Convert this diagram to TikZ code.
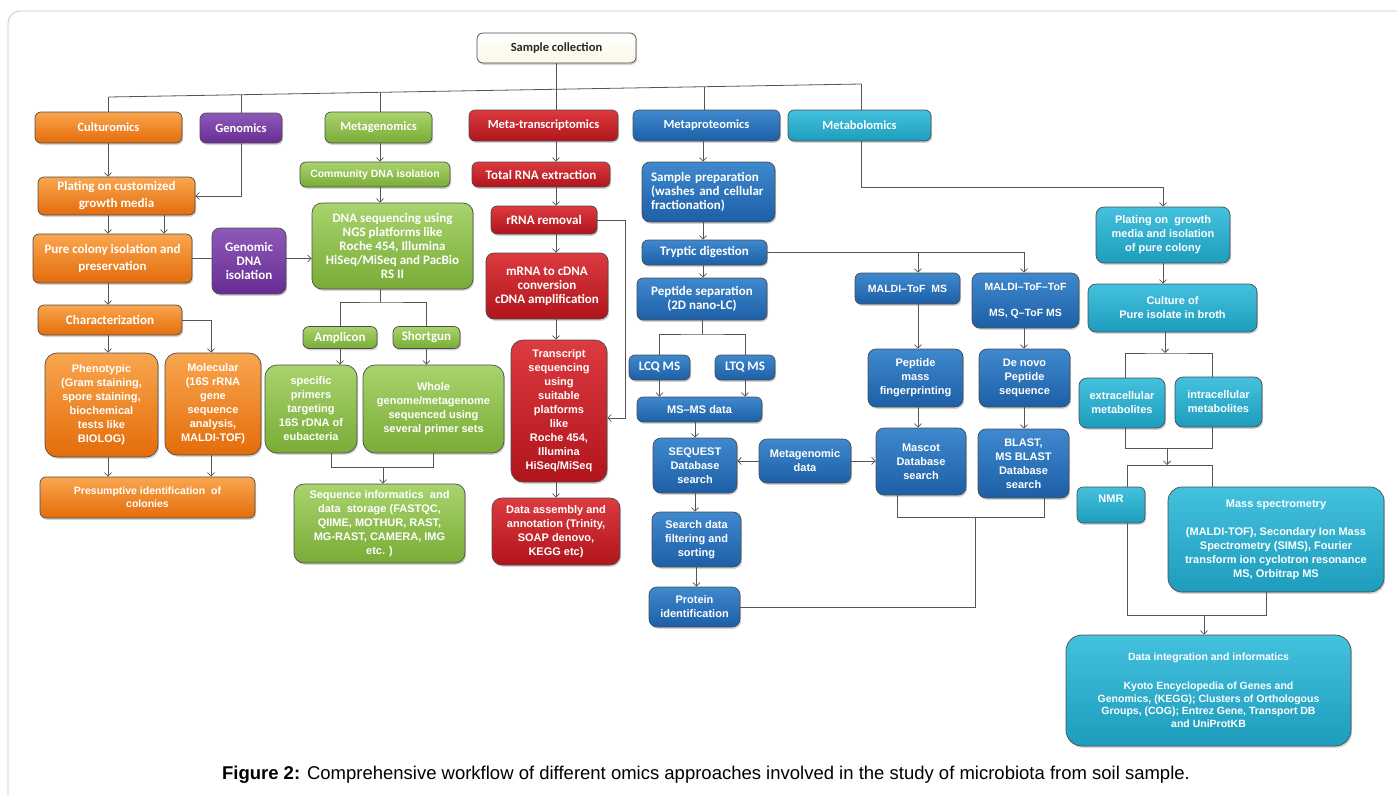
\documentclass[tikz,border=0pt]{standalone}
\usepackage{fontspec}
\setmainfont{Liberation Sans}
\newfontfamily\calfont{Carlito}
\usetikzlibrary{arrows.meta,shadows}

\definecolor{orTop}{HTML}{F9A64F}
\definecolor{orBot}{HTML}{E46C0A}
\definecolor{puTop}{HTML}{8D5AB8}
\definecolor{puBot}{HTML}{682C94}
\definecolor{grTop}{HTML}{A9D36E}
\definecolor{grBot}{HTML}{79AC36}
\definecolor{reTop}{HTML}{DC3B3F}
\definecolor{reBot}{HTML}{B0141C}
\definecolor{blTop}{HTML}{3F89CE}
\definecolor{blBot}{HTML}{1D5FA6}
\definecolor{cyTop}{HTML}{43C1DD}
\definecolor{cyBot}{HTML}{1E9CBD}
\definecolor{cream}{HTML}{FBF8E6}
\definecolor{linegray}{HTML}{555555}

\begin{document}
\begin{tikzpicture}[x=1pt,y=-1pt]
        \tikzset{>={Straight Barb[length=3.5pt,width=7pt]}}
        \tikzstyle{link}=[draw=linegray,line width=0.8pt]
        \tikzstyle{box}=[draw=black!70,line width=0.7pt,rounded corners=6pt,align=center,text=white,inner sep=2pt,
                drop shadow={shadow xshift=1.2pt,shadow yshift=-1.8pt,opacity=0.35}]
        \tikzstyle{scbox}=[box,top color=white,bottom color=cream,text=black!85]
        \tikzstyle{orbox}=[box,top color=orTop,bottom color=orBot]
        \tikzstyle{pubox}=[box,top color=puTop,bottom color=puBot]
        \tikzstyle{grbox}=[box,top color=grTop,bottom color=grBot]
        \tikzstyle{rebox}=[box,top color=reTop,bottom color=reBot]
        \tikzstyle{blbox}=[box,top color=blTop,bottom color=blBot]
        \tikzstyle{cybox}=[box,top color=cyTop,bottom color=cyBot]
        \tikzstyle{head}=[font=\calfont\bfseries\fontsize{12.5}{14}\selectfont]
        \tikzstyle{cal}=[font=\calfont\bfseries\fontsize{13}{14}\selectfont]
        \tikzstyle{calx}=[font=\calfont\bfseries\fontsize{13}{17}\selectfont]
        \tikzstyle{ari}=[font=\bfseries\fontsize{11}{14}\selectfont]
        \tikzstyle{aris}=[font=\bfseries\fontsize{10.5}{13}\selectfont]

        \useasboundingbox (0,0) rectangle (1397,796);
        \draw[black!22,line width=0.8pt,rounded corners=12pt] (1397,11) -- (8,11) -- (8,796);

        % top row
        \node[scbox,head,minimum width=159,minimum height=30] (sc) at (556.5,48) {Sample collection};
        \node[orbox,head,minimum width=147,minimum height=31] (cul) at (108.5,127.5) {Culturomics};
        \node[pubox,head,minimum width=82,minimum height=30] (gen) at (241,128) {Genomics};
        \node[grbox,head,minimum width=107,minimum height=31] (mgen) at (378.5,127.5) {Metagenomics};
        \node[rebox,head,minimum width=149,minimum height=31] (mtr) at (543.5,125.5) {Meta-transcriptomics};
        \node[blbox,head,minimum width=147,minimum height=31] (mpro) at (706.5,125.5) {Metaproteomics};
        \node[cybox,head,minimum width=143,minimum height=31] (mbol) at (859.5,125.5) {Metabolomics};

        % culturomics
        \node[orbox,calx,minimum width=157,minimum height=38] (pl1) at (116.5,196) {Plating on customized\\growth media};
        \node[orbox,calx,minimum width=159,minimum height=49] (pure) at (112.5,258.5) {Pure colony isolation and\\preservation};
        \node[pubox,cal,minimum width=74,minimum height=66,rounded corners=8pt] (gdna) at (249,261) {Genomic\\DNA\\isolation};
        \node[orbox,cal,minimum width=144,minimum height=30] (char) at (110,320) {Characterization};
        \node[orbox,ari,minimum width=113,minimum height=104,rounded corners=12pt] (phen) at (101.5,405)
                {Phenotypic\\(Gram staining,\\spore staining,\\biochemical\\tests like\\BIOLOG)};
        \node[orbox,ari,minimum width=96,minimum height=102,rounded corners=12pt] (mol) at (213,404)
                {Molecular\\(16S rRNA\\gene\\sequence\\analysis,\\MALDI-TOF)};
        \node[orbox,aris,minimum width=215,minimum height=41] (pres) at (147.5,497.5) {Presumptive identification~ of\\colonies};

        % metagenomics
        \node[grbox,aris,minimum width=150,minimum height=25] (cdna) at (375,174.5) {Community DNA isolation};
        \node[grbox,cal,minimum width=161,minimum height=86,rounded corners=10pt] (dnaseq) at (392.5,246)
                {DNA sequencing using\\NGS platforms like\\Roche 454, Illumina\\HiSeq/MiSeq and PacBio\\RS II};
        \node[grbox,cal,minimum width=74,minimum height=22] (ampl) at (340,337.5) {Amplicon};
        \node[grbox,cal,minimum width=67,minimum height=22] (shot) at (426.5,337.5) {Shortgun};
        \node[grbox,ari,minimum width=92,minimum height=88,rounded corners=12pt] (spec) at (311,409)
                {specific\\primers\\targeting\\16S rDNA of\\eubacteria};
        \node[grbox,ari,minimum width=141,minimum height=88,rounded corners=12pt] (whole) at (433.5,409)
                {Whole\\genome/metagenome\\sequenced using\\several primer sets};
        \node[grbox,ari,minimum width=171,minimum height=79,rounded corners=10pt] (seqinf) at (379.5,523.5)
                {Sequence informatics~ and\\data~ storage (FASTQC,\\QIIME, MOTHUR, RAST,\\MG-RAST, CAMERA, IMG\\etc. )};

        % meta-transcriptomics
        \node[rebox,cal,minimum width=138,minimum height=25] (tot) at (541,174.5) {Total RNA extraction};
        \node[rebox,cal,minimum width=106,minimum height=28] (rrna) at (544,220) {rRNA removal};
        \node[rebox,cal,minimum width=122,minimum height=66,rounded corners=8pt] (mrna) at (547,286)
                {mRNA to cDNA\\conversion\\cDNA amplification};
        \node[rebox,ari,minimum width=96,minimum height=142,rounded corners=12pt] (trs) at (559,411)
                {Transcript\\sequencing\\using\\suitable\\platforms\\like\\Roche 454,\\Illumina\\HiSeq/MiSeq};
        \node[rebox,ari,minimum width=128,minimum height=67,rounded corners=10pt] (asm) at (556,531.5)
                {Data assembly and\\annotation (Trinity,\\SOAP denovo,\\KEGG etc)};

        % metaproteomics
        \node[blbox,cal,minimum width=133,minimum height=60,rounded corners=8pt,align=left,text width=115] (sp) at (708.5,192)
                {Sample preparation\\(washes and cellular\\fractionation)};
        \node[blbox,cal,minimum width=125,minimum height=25] (tryp) at (704.5,252.5) {Tryptic digestion};
        \node[blbox,cal,minimum width=130,minimum height=42] (psep) at (702,299) {Peptide separation\\(2D nano-LC)};
        \node[blbox,cal,minimum width=61,minimum height=25] (lcq) at (659.5,367.5) {LCQ MS};
        \node[blbox,cal,minimum width=60,minimum height=25] (ltq) at (745,367.5) {LTQ MS};
        \node[blbox,ari,minimum width=125,minimum height=25] (msms) at (699.5,409.5) {MS–MS data};
        \node[blbox,ari,minimum width=84,minimum height=55,rounded corners=8pt] (seq) at (695,465.5) {SEQUEST\\Database\\search};
        \node[blbox,ari,minimum width=92,minimum height=44,rounded corners=8pt] (mgd) at (805,461) {Metagenomic\\data};
        \node[blbox,ari,minimum width=89,minimum height=55,rounded corners=8pt] (sfs) at (696.5,539.5) {Search data\\filtering and\\sorting};
        \node[blbox,ari,minimum width=91,minimum height=40,rounded corners=8pt] (prot) at (694.5,607) {Protein\\identification};
        \node[blbox,aris,minimum width=105,minimum height=31] (mtof) at (907.5,288.5) {MALDI–ToF~ MS};
        \node[blbox,aris,minimum width=107,minimum height=55,rounded corners=8pt] (mtt) at (1025.5,300.5) {MALDI–ToF–ToF\\[13pt]MS, Q–ToF MS};
        \node[blbox,ari,minimum width=95,minimum height=58,rounded corners=8pt] (pmf) at (915.5,378) {Peptide\\mass\\fingerprinting};
        \node[blbox,ari,minimum width=91,minimum height=58,rounded corners=8pt] (dnov) at (1024.5,378) {De novo\\Peptide\\sequence};
        \node[blbox,ari,minimum width=90,minimum height=67,rounded corners=8pt] (masc) at (921,461.5) {Mascot\\Database\\search};
        \node[blbox,ari,minimum width=91,minimum height=69,rounded corners=8pt] (blast) at (1023.5,463.5) {BLAST,\\MS BLAST\\Database\\search};

        % metabolomics
        \node[cybox,ari,minimum width=134,minimum height=56,rounded corners=8pt] (pl2) at (1163,235) {Plating on~ growth\\media and isolation\\of pure colony};
        \node[cybox,ari,minimum width=169,minimum height=48,rounded corners=8pt] (cult) at (1172.5,308) {Culture of\\Pure isolate in broth};
        \node[cybox,ari,minimum width=86,minimum height=50,rounded corners=8pt] (extra) at (1122,403) {extracellular\\metabolites};
        \node[cybox,ari,minimum width=87,minimum height=50,rounded corners=8pt] (intra) at (1218.5,402) {intracellular\\metabolites};
        \node[cybox,ari,minimum width=68,minimum height=36,text depth=12pt] (nmr) at (1111,505) {NMR};
        \node[cybox,ari,minimum width=216,minimum height=105,rounded corners=14pt] (mass) at (1276,539.5)
                {Mass spectrometry\\[14pt](MALDI-TOF), Secondary Ion Mass\\Spectrometry (SIMS), Fourier\\transform ion cyclotron resonance\\MS, Orbitrap MS};
        \node[cybox,font=\bfseries\fontsize{10.5}{12.7}\selectfont,minimum width=285,minimum height=111,rounded corners=16pt] (dint) at (1208.5,690.5)
                {Data integration and informatics\\[16pt]Kyoto Encyclopedia of Genes and\\Genomics, (KEGG); Clusters of Orthologous\\Groups, (COG); Entrez Gene, Transport DB\\and UniProtKB};

        \node[font=\fontsize{18.5}{22}\selectfont,text=black] (cap) at (706,775)
                {\textbf{Figure 2:} Comprehensive workflow of different omics approaches involved in the study of microbiota from soil sample.};

        % bus from sample collection
        \coordinate (b1) at (108.5,97);
        \coordinate (b2) at (241,94.7);
        \coordinate (b3) at (380,92.3);
        \coordinate (b5) at (704,86.7);
        \coordinate (b6) at (861,84);
        \draw[link] (b1) -- (b6);
        \draw[link] (b1) -- (b1 |- cul.north);
        \draw[link] (b2) -- (b2 |- gen.north);
        \draw[link] (b3) -- (b3 |- mgen.north);
        \draw[link] (b5) -- (b5 |- mpro.north);
        \draw[link] (b6) -- (b6 |- mbol.north);
        \draw[link] (sc.south) -- (sc.south |- mtr.north);

        % columns
        \coordinate (xa) at (108,0);
        \coordinate (xb) at (164,0);
        \coordinate (xc) at (211,0);
        \coordinate (xd) at (380,0);
        \coordinate (xe) at (556,0);
        \coordinate (xf) at (703,0);
        \coordinate (xg) at (918,0);
        \coordinate (xh) at (1024,0);

        % culturomics links
        \draw[link,->] (cul.south -| xa) -- (pl1.north -| xa);
        \draw[link,->] (gen.south) |- (pl1.east);
        \draw[link,->] (pl1.south -| xa) -- (pure.north -| xa);
        \draw[link,->] (pl1.south -| xb) -- (pure.north -| xb);
        \draw[link] (pure.east) -- (pure.east -| gdna.west);
        \draw[link,->] (gdna.east |- pure.east) -- (dnaseq.west |- pure.east);
        \draw[link,->] (pure.south -| xa) -- (char.north -| xa);
        \draw[link,->] (char.south -| xa) -- (phen.north -| xa);
        \draw[link,->] (char.east) -| (mol.north -| xc);
        \draw[link,->] (phen.south -| xa) -- (pres.north -| xa);
        \draw[link,->] (mol.south -| xc) -- (pres.north -| xc);

        % metagenomics links
        \draw[link,->] (mgen.south -| xd) -- (cdna.north -| xd);
        \draw[link,->] (cdna.south -| xd) -- (dnaseq.north -| xd);
        \coordinate (j1) at (380,302);
        \draw[link] (dnaseq.south -| j1) -- (j1);
        \draw[link] (ampl.north) |- (j1) -| (shot.north);
        \draw[link,->] (ampl.south) -- (ampl.south |- spec.north);
        \draw[link,->] (shot.south) -- (shot.south |- whole.north);
        \coordinate (j2) at (383,467);
        \draw[link] ([xshift=20pt]spec.south) |- (j2) -| (whole.south);
        \draw[link,->] (j2) -- (j2 |- seqinf.north);

        % meta-transcriptomics links
        \draw[link,->] (mtr.south -| xe) -- (tot.north -| xe);
        \draw[link,->] (tot.south -| xe) -- (rrna.north -| xe);
        \draw[link,->] (rrna.south -| xe) -- (mrna.north -| xe);
        \draw[link,->] (mrna.south -| xe) -- (trs.north -| xe);
        \draw[link,->] (trs.south -| xe) -- (asm.north -| xe);
        \coordinate (fb) at (625,418);
        \draw[link,->] (rrna.east) -| (fb) -- (fb -| trs.east);

        % metaproteomics links
        \draw[link,->] (mpro.south -| xf) -- (sp.north -| xf);
        \draw[link,->] (sp.south -| xf) -- (tryp.north -| xf);
        \draw[link,->] (tryp.south -| xf) -- (psep.north -| xf);
        \coordinate (j3) at (702,334);
        \draw[link] (psep.south -| j3) -- (j3);
        \draw[link] (lcq.north) |- (j3) -| (ltq.north);
        \draw[link,->] (lcq.south) -- (lcq.south |- msms.north);
        \draw[link,->] (ltq.south) -- (ltq.south |- msms.north);
        \draw[link,->] (msms.south -| seq) -- (seq.north);
        \draw[link,->] (seq.south) -- (seq.south |- sfs.north);
        \draw[link,->] (sfs.south) -- (sfs.south |- prot.north);
        \draw[link,->] (mgd.west) -- (mgd.west -| seq.east);
        \draw[link,->] (mgd.east) -- (mgd.east -| masc.west);
        \draw[link,->] (tryp.east) -| (mtt.north -| xh);
        \draw[link,->] (tryp.east -| xg) -- (mtof.north -| xg);
        \draw[link,->] (mtof.south -| xg) -- (pmf.north -| xg);
        \draw[link,->] (pmf.south -| xg) -- (masc.north -| xg);
        \draw[link,->] (mtt.south -| xh) -- (dnov.north -| xh);
        \draw[link,->] (dnov.south -| xh) -- (blast.north -| xh);
        \coordinate (j4) at (975,517);
        \draw[link] ([xshift=-24pt]masc.south) |- (j4) -| ([xshift=20.5pt]blast.south);
        \draw[link] (j4) |- (prot.east);

        % metabolomics links
        \coordinate (j5) at (861,187);
        \draw[link,->] (mbol.south -| j5) -- (j5) -| (pl2.north);
        \draw[link,->] (pl2.south) -- (pl2.south |- cult.north);
        \coordinate (xk) at (1125,0);
        \coordinate (xl) at (1212,0);
        \coordinate (xm) at (1127,0);
        \coordinate (xn) at (1266,0);
        \coordinate (j6) at (1165,353);
        \draw[link,->] (cult.south -| j6) -- (j6);
        \draw[link] (extra.north -| xk) |- (j6) -| (intra.north -| xl);
        \coordinate (j7) at (1167,448);
        \coordinate (j8) at (1167,465);
        \draw[link] (extra.south -| xk) |- (j7) -| (intra.south -| xl);
        \draw[link,->] (j7) -- (j8);
        \draw[link] (nmr.north -| xm) |- (j8) -| (mass.north -| xl);
        \coordinate (j9) at (1204,615);
        \draw[link] (nmr.south -| xm) |- (j9) -| (mass.south -| xn);
        \draw[link,->] (j9) -- (j9 |- dint.north);
\end{tikzpicture}
\end{document}
